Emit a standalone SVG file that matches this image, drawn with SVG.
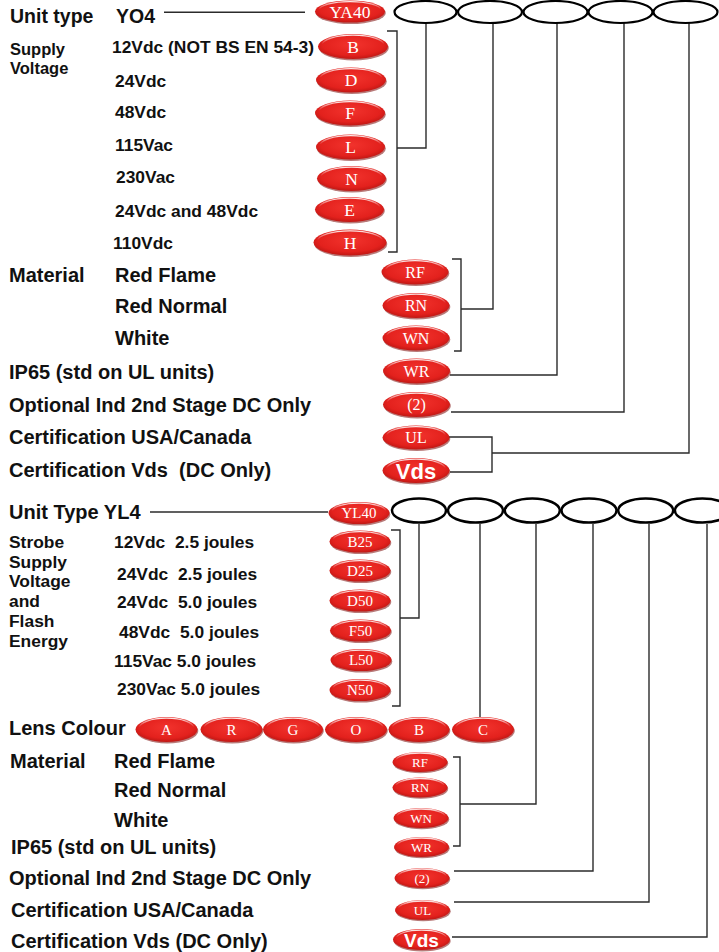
<svg xmlns="http://www.w3.org/2000/svg" width="719" height="952" viewBox="0 0 719 952">
<defs>
<radialGradient id="rg" cx="0.5" cy="0.42" r="0.62">
<stop offset="0" stop-color="#f2332d"/>
<stop offset="0.7" stop-color="#e3211d"/>
<stop offset="1" stop-color="#b51512"/>
</radialGradient>
<linearGradient id="hlg" x1="0" y1="0" x2="0" y2="1">
<stop offset="0" stop-color="#fff" stop-opacity="0.9"/>
<stop offset="0.45" stop-color="#fff" stop-opacity="0"/>
</linearGradient>
<style>
.sh{fill:#7d0d0b;opacity:.55}
.pill{fill:url(#rg)}
.hl{fill:none;stroke:url(#hlg);stroke-width:1.3}
.pt{font-family:"Liberation Serif","Times New Roman",serif;fill:#fff;text-anchor:middle}
.vd{font-family:"Liberation Sans",Arial,sans-serif;font-weight:bold;fill:#fff;text-anchor:middle}
.lbl{font-family:"Liberation Sans",Arial,sans-serif;font-weight:bold;fill:#111}
.s17{font-size:17.4px}
.s20{font-size:20px}
.oval{fill:#fff;stroke:#000;stroke-width:2.2}
.oval2{fill:#fff;stroke:#000;stroke-width:2.5}
.conn{fill:none;stroke:#2b2b2b;stroke-width:1.4}
</style>
</defs>
<rect width="719" height="952" fill="#fff"/>

<g id="connectors" class="conn">
<path d="M164 12.3H305"/>
<path d="M387 31H397V252H388M397 148H426V23"/>
<path d="M452 259H461V351H454M461 309H493V23"/>
<path d="M450 375H557V23"/>
<path d="M451 412H624V23"/>
<path d="M449 437H492V472H450M492 453H689V23"/>
<path d="M150 512H328"/>
<path d="M391 530H400V706H392M400 618H419V524"/>
<path d="M480 524V717"/>
<path d="M453 757H460V846H453M460 804H536V524"/>
<path d="M454 871H593V524"/>
<path d="M454 902H649V524"/>
<path d="M452 937H707V524"/>
</g>

<g id="code-slots-top">
<ellipse class="oval" cx="425.5" cy="12" rx="31" ry="11"/>
<ellipse class="oval" cx="490" cy="12" rx="32" ry="11"/>
<ellipse class="oval" cx="555.5" cy="12" rx="32" ry="11"/>
<ellipse class="oval" cx="620.5" cy="12" rx="32" ry="11"/>
<ellipse class="oval" cx="685.5" cy="12" rx="32" ry="11"/>
</g>
<g id="code-slots-bottom">
<ellipse class="oval2" cx="419" cy="510.5" rx="27" ry="12"/>
<ellipse class="oval2" cx="475.5" cy="510.5" rx="27.5" ry="12"/>
<ellipse class="oval2" cx="532.3" cy="510.5" rx="27.5" ry="12"/>
<ellipse class="oval2" cx="589" cy="510.5" rx="27.5" ry="12"/>
<ellipse class="oval2" cx="645.7" cy="510.5" rx="27.5" ry="12"/>
<ellipse class="oval2" cx="702.4" cy="510.5" rx="27.5" ry="12"/>
</g>

<g id="labels-top">
<text class="lbl" x="10" y="23" font-size="19.5">Unit type</text>
<text class="lbl" x="116" y="23" font-size="19.5">YO4</text>
<text class="lbl" x="10" y="54.5" font-size="16.5">Supply</text>
<text class="lbl" x="10" y="74" font-size="16.5">Voltage</text>
<text class="lbl s17" x="112" y="53">12Vdc (NOT BS EN 54-3)</text>
<text class="lbl s17" x="115" y="87">24Vdc</text>
<text class="lbl s17" x="115" y="118">48Vdc</text>
<text class="lbl s17" x="115" y="151">115Vac</text>
<text class="lbl s17" x="116" y="183">230Vac</text>
<text class="lbl s17" x="115" y="217">24Vdc and 48Vdc</text>
<text class="lbl s17" x="113" y="249">110Vdc</text>
<text class="lbl s20" x="9" y="282">Material</text>
<text class="lbl s20" x="115" y="282">Red Flame</text>
<text class="lbl s20" x="115" y="313">Red Normal</text>
<text class="lbl s20" x="115" y="345">White</text>
<text class="lbl s20" x="9" y="379">IP65 (std on UL units)</text>
<text class="lbl s20" x="9" y="412">Optional Ind 2nd Stage DC Only</text>
<text class="lbl s20" x="9" y="444">Certification USA/Canada</text>
<text class="lbl s20" x="9" y="477" xml:space="preserve">Certification Vds  (DC Only)</text>
</g>

<g id="labels-bottom">
<text class="lbl s20" x="9" y="519">Unit Type YL4</text>
<text class="lbl s17" x="9" y="548">Strobe</text>
<text class="lbl s17" x="9" y="567.5">Supply</text>
<text class="lbl s17" x="9" y="587">Voltage</text>
<text class="lbl s17" x="9" y="607">and</text>
<text class="lbl s17" x="9" y="627">Flash</text>
<text class="lbl s17" x="9" y="647">Energy</text>
<text class="lbl s17" x="114" y="548" xml:space="preserve">12Vdc  2.5 joules</text>
<text class="lbl s17" x="117" y="580" xml:space="preserve">24Vdc  2.5 joules</text>
<text class="lbl s17" x="117" y="608" xml:space="preserve">24Vdc  5.0 joules</text>
<text class="lbl s17" x="119" y="638" xml:space="preserve">48Vdc  5.0 joules</text>
<text class="lbl s17" x="114" y="667">115Vac 5.0 joules</text>
<text class="lbl s17" x="117" y="695">230Vac 5.0 joules</text>
<text class="lbl s20" x="9" y="735">Lens Colour</text>
<text class="lbl s20" x="10" y="768">Material</text>
<text class="lbl s20" x="114" y="768">Red Flame</text>
<text class="lbl s20" x="114" y="797">Red Normal</text>
<text class="lbl s20" x="114" y="827">White</text>
<text class="lbl s20" x="11" y="854">IP65 (std on UL units)</text>
<text class="lbl s20" x="9" y="885">Optional Ind 2nd Stage DC Only</text>
<text class="lbl s20" x="11" y="917">Certification USA/Canada</text>
<text class="lbl s20" x="11" y="948">Certification Vds (DC Only)</text>
</g>

<!-- top pills -->
<g id="p-ya40"><ellipse class="sh" cx="350.8" cy="13" rx="35" ry="11"/><ellipse class="pill" cx="350" cy="11.5" rx="35" ry="11"/><ellipse class="hl" cx="350" cy="10.2" rx="31" ry="8.6"/><text class="pt" x="350" y="17.6" font-size="17.5">YA40</text></g>
<g id="p-b"><ellipse class="sh" cx="353.8" cy="48" rx="35" ry="12.5"/><ellipse class="pill" cx="353" cy="46.5" rx="35" ry="12.5"/><ellipse class="hl" cx="353" cy="45" rx="31" ry="9.8"/><text class="pt" x="353" y="52.6" font-size="17.5">B</text></g>
<g id="p-d"><ellipse class="sh" cx="351.8" cy="81.5" rx="35" ry="12.5"/><ellipse class="pill" cx="351" cy="80" rx="35" ry="12.5"/><ellipse class="hl" cx="351" cy="78.5" rx="31" ry="9.8"/><text class="pt" x="351" y="86.1" font-size="17.5">D</text></g>
<g id="p-f"><ellipse class="sh" cx="350.8" cy="114.5" rx="35" ry="12.5"/><ellipse class="pill" cx="350" cy="113" rx="35" ry="12.5"/><ellipse class="hl" cx="350" cy="111.5" rx="31" ry="9.8"/><text class="pt" x="350" y="119.1" font-size="17.5">F</text></g>
<g id="p-l"><ellipse class="sh" cx="351.3" cy="148.5" rx="34.5" ry="12.5"/><ellipse class="pill" cx="350.5" cy="147" rx="34.5" ry="12.5"/><ellipse class="hl" cx="350.5" cy="145.5" rx="30.5" ry="9.8"/><text class="pt" x="350.5" y="153.1" font-size="17.5">L</text></g>
<g id="p-n"><ellipse class="sh" cx="352.3" cy="180" rx="34.5" ry="12.5"/><ellipse class="pill" cx="351.5" cy="178.5" rx="34.5" ry="12.5"/><ellipse class="hl" cx="351.5" cy="177" rx="30.5" ry="9.8"/><text class="pt" x="351.5" y="184.6" font-size="17.5">N</text></g>
<g id="p-e"><ellipse class="sh" cx="350.3" cy="211" rx="34.5" ry="12.5"/><ellipse class="pill" cx="349.5" cy="209.5" rx="34.5" ry="12.5"/><ellipse class="hl" cx="349.5" cy="208" rx="30.5" ry="9.8"/><text class="pt" x="349.5" y="215.6" font-size="17.5">E</text></g>
<g id="p-h"><ellipse class="sh" cx="350.8" cy="244" rx="36.5" ry="13"/><ellipse class="pill" cx="350" cy="242.5" rx="36.5" ry="13"/><ellipse class="hl" cx="350" cy="241" rx="32.5" ry="10.2"/><text class="pt" x="350" y="248.6" font-size="17.5">H</text></g>

<!-- material 1 -->
<g id="p-rf1"><ellipse class="sh" cx="415.8" cy="273.5" rx="33.5" ry="12.5"/><ellipse class="pill" cx="415" cy="272" rx="33.5" ry="12.5"/><ellipse class="hl" cx="415" cy="270.5" rx="29.5" ry="9.8"/><text class="pt" x="415" y="277.6" font-size="16">RF</text></g>
<g id="p-rn1"><ellipse class="sh" cx="416.8" cy="307" rx="33.5" ry="12.5"/><ellipse class="pill" cx="416" cy="305.5" rx="33.5" ry="12.5"/><ellipse class="hl" cx="416" cy="304" rx="29.5" ry="9.8"/><text class="pt" x="416" y="311.1" font-size="16">RN</text></g>
<g id="p-wn1"><ellipse class="sh" cx="416.8" cy="339.5" rx="33.5" ry="12.5"/><ellipse class="pill" cx="416" cy="338" rx="33.5" ry="12.5"/><ellipse class="hl" cx="416" cy="336.5" rx="29.5" ry="9.8"/><text class="pt" x="416" y="343.6" font-size="16">WN</text></g>
<g id="p-wr1"><ellipse class="sh" cx="417.3" cy="372.5" rx="33.5" ry="12.5"/><ellipse class="pill" cx="416.5" cy="371" rx="33.5" ry="12.5"/><ellipse class="hl" cx="416.5" cy="369.5" rx="29.5" ry="9.8"/><text class="pt" x="416.5" y="376.6" font-size="16">WR</text></g>
<g id="p-2a"><ellipse class="sh" cx="417.3" cy="406" rx="33.5" ry="12.5"/><ellipse class="pill" cx="416.5" cy="404.5" rx="33.5" ry="12.5"/><ellipse class="hl" cx="416.5" cy="403" rx="29.5" ry="9.8"/><text class="pt" x="416.5" y="410.1" font-size="16">(2)</text></g>
<g id="p-ul1"><ellipse class="sh" cx="416.8" cy="439" rx="33.5" ry="12"/><ellipse class="pill" cx="416" cy="437.5" rx="33.5" ry="12"/><ellipse class="hl" cx="416" cy="436" rx="29.5" ry="9.4"/><text class="pt" x="416" y="443.1" font-size="16">UL</text></g>
<g id="p-vds1"><ellipse class="sh" cx="416.8" cy="472" rx="33.5" ry="12.5"/><ellipse class="pill" cx="416" cy="470.5" rx="33.5" ry="12.5"/><ellipse class="hl" cx="416" cy="469" rx="29.5" ry="9.8"/><text class="vd" x="416" y="478.5" font-size="22">Vds</text></g>

<!-- bottom strobe pills -->
<g id="p-yl40"><ellipse class="sh" cx="359.8" cy="514.5" rx="30.5" ry="11"/><ellipse class="pill" cx="359" cy="513" rx="30.5" ry="11"/><ellipse class="hl" cx="359" cy="511.7" rx="27" ry="8.6"/><text class="pt" x="359" y="518.3" font-size="15">YL40</text></g>
<g id="p-b25"><ellipse class="sh" cx="360.8" cy="543" rx="30.5" ry="11"/><ellipse class="pill" cx="360" cy="541.5" rx="30.5" ry="11"/><ellipse class="hl" cx="360" cy="540.2" rx="27" ry="8.6"/><text class="pt" x="360" y="546.8" font-size="15">B25</text></g>
<g id="p-d25"><ellipse class="sh" cx="360.8" cy="572" rx="30.5" ry="11"/><ellipse class="pill" cx="360" cy="570.5" rx="30.5" ry="11"/><ellipse class="hl" cx="360" cy="569.2" rx="27" ry="8.6"/><text class="pt" x="360" y="575.8" font-size="15">D25</text></g>
<g id="p-d50"><ellipse class="sh" cx="360.8" cy="602" rx="30.5" ry="11"/><ellipse class="pill" cx="360" cy="600.5" rx="30.5" ry="11"/><ellipse class="hl" cx="360" cy="599.2" rx="27" ry="8.6"/><text class="pt" x="360" y="605.8" font-size="15">D50</text></g>
<g id="p-f50"><ellipse class="sh" cx="361.3" cy="632" rx="30.5" ry="11"/><ellipse class="pill" cx="360.5" cy="630.5" rx="30.5" ry="11"/><ellipse class="hl" cx="360.5" cy="629.2" rx="27" ry="8.6"/><text class="pt" x="360.5" y="635.8" font-size="15">F50</text></g>
<g id="p-l50"><ellipse class="sh" cx="361.8" cy="661.5" rx="30.5" ry="11"/><ellipse class="pill" cx="361" cy="660" rx="30.5" ry="11"/><ellipse class="hl" cx="361" cy="658.7" rx="27" ry="8.6"/><text class="pt" x="361" y="665.3" font-size="15">L50</text></g>
<g id="p-n50"><ellipse class="sh" cx="360.8" cy="691.5" rx="30.5" ry="11"/><ellipse class="pill" cx="360" cy="690" rx="30.5" ry="11"/><ellipse class="hl" cx="360" cy="688.7" rx="27" ry="8.6"/><text class="pt" x="360" y="695.3" font-size="15">N50</text></g>

<!-- lens colour -->
<g id="p-a"><ellipse class="sh" cx="167.3" cy="731" rx="31" ry="12.5"/><ellipse class="pill" cx="166.5" cy="729.5" rx="31" ry="12.5"/><ellipse class="hl" cx="166.5" cy="728" rx="27.3" ry="9.8"/><text class="pt" x="166.5" y="734.8" font-size="15">A</text></g>
<g id="p-r"><ellipse class="sh" cx="232.3" cy="731" rx="31" ry="12.5"/><ellipse class="pill" cx="231.5" cy="729.5" rx="31" ry="12.5"/><ellipse class="hl" cx="231.5" cy="728" rx="27.3" ry="9.8"/><text class="pt" x="231.5" y="734.8" font-size="15">R</text></g>
<g id="p-g"><ellipse class="sh" cx="293.8" cy="731" rx="30" ry="12.5"/><ellipse class="pill" cx="293" cy="729.5" rx="30" ry="12.5"/><ellipse class="hl" cx="293" cy="728" rx="26.4" ry="9.8"/><text class="pt" x="293" y="734.8" font-size="15">G</text></g>
<g id="p-o"><ellipse class="sh" cx="356.8" cy="731" rx="31" ry="12.5"/><ellipse class="pill" cx="356" cy="729.5" rx="31" ry="12.5"/><ellipse class="hl" cx="356" cy="728" rx="27.3" ry="9.8"/><text class="pt" x="356" y="734.8" font-size="15">O</text></g>
<g id="p-bl"><ellipse class="sh" cx="419.8" cy="731" rx="30.5" ry="12.5"/><ellipse class="pill" cx="419" cy="729.5" rx="30.5" ry="12.5"/><ellipse class="hl" cx="419" cy="728" rx="26.8" ry="9.8"/><text class="pt" x="419" y="734.8" font-size="15">B</text></g>
<g id="p-c"><ellipse class="sh" cx="483.8" cy="731" rx="31" ry="12.5"/><ellipse class="pill" cx="483" cy="729.5" rx="31" ry="12.5"/><ellipse class="hl" cx="483" cy="728" rx="27.3" ry="9.8"/><text class="pt" x="483" y="734.8" font-size="15">C</text></g>

<!-- material 2 -->
<g id="p-rf2"><ellipse class="sh" cx="420.7" cy="763.3" rx="27.5" ry="10"/><ellipse class="pill" cx="420" cy="762" rx="27.5" ry="10"/><ellipse class="hl" cx="420" cy="760.8" rx="24.2" ry="7.8"/><text class="pt" x="420" y="766.6" font-size="13">RF</text></g>
<g id="p-rn2"><ellipse class="sh" cx="420.7" cy="788.8" rx="27.5" ry="10"/><ellipse class="pill" cx="420" cy="787.5" rx="27.5" ry="10"/><ellipse class="hl" cx="420" cy="786.3" rx="24.2" ry="7.8"/><text class="pt" x="420" y="792.1" font-size="13">RN</text></g>
<g id="p-wn2"><ellipse class="sh" cx="421.7" cy="819.3" rx="27.5" ry="10"/><ellipse class="pill" cx="421" cy="818" rx="27.5" ry="10"/><ellipse class="hl" cx="421" cy="816.8" rx="24.2" ry="7.8"/><text class="pt" x="421" y="822.6" font-size="13">WN</text></g>
<g id="p-wr2"><ellipse class="sh" cx="422.2" cy="848.3" rx="27.5" ry="10"/><ellipse class="pill" cx="421.5" cy="847" rx="27.5" ry="10"/><ellipse class="hl" cx="421.5" cy="845.8" rx="24.2" ry="7.8"/><text class="pt" x="421.5" y="851.6" font-size="13">WR</text></g>
<g id="p-2b"><ellipse class="sh" cx="422.7" cy="879.3" rx="27.5" ry="10"/><ellipse class="pill" cx="422" cy="878" rx="27.5" ry="10"/><ellipse class="hl" cx="422" cy="876.8" rx="24.2" ry="7.8"/><text class="pt" x="422" y="882.6" font-size="13">(2)</text></g>
<g id="p-ul2"><ellipse class="sh" cx="423.2" cy="911.3" rx="27.5" ry="10"/><ellipse class="pill" cx="422.5" cy="910" rx="27.5" ry="10"/><ellipse class="hl" cx="422.5" cy="908.8" rx="24.2" ry="7.8"/><text class="pt" x="422.5" y="914.6" font-size="13">UL</text></g>
<g id="p-vds2"><ellipse class="sh" cx="422.2" cy="941" rx="28.5" ry="10.5"/><ellipse class="pill" cx="421.5" cy="939.5" rx="28.5" ry="10.5"/><ellipse class="hl" cx="421.5" cy="938.3" rx="25" ry="8.2"/><text class="vd" x="421.5" y="946.5" font-size="19">Vds</text></g>
</svg>
